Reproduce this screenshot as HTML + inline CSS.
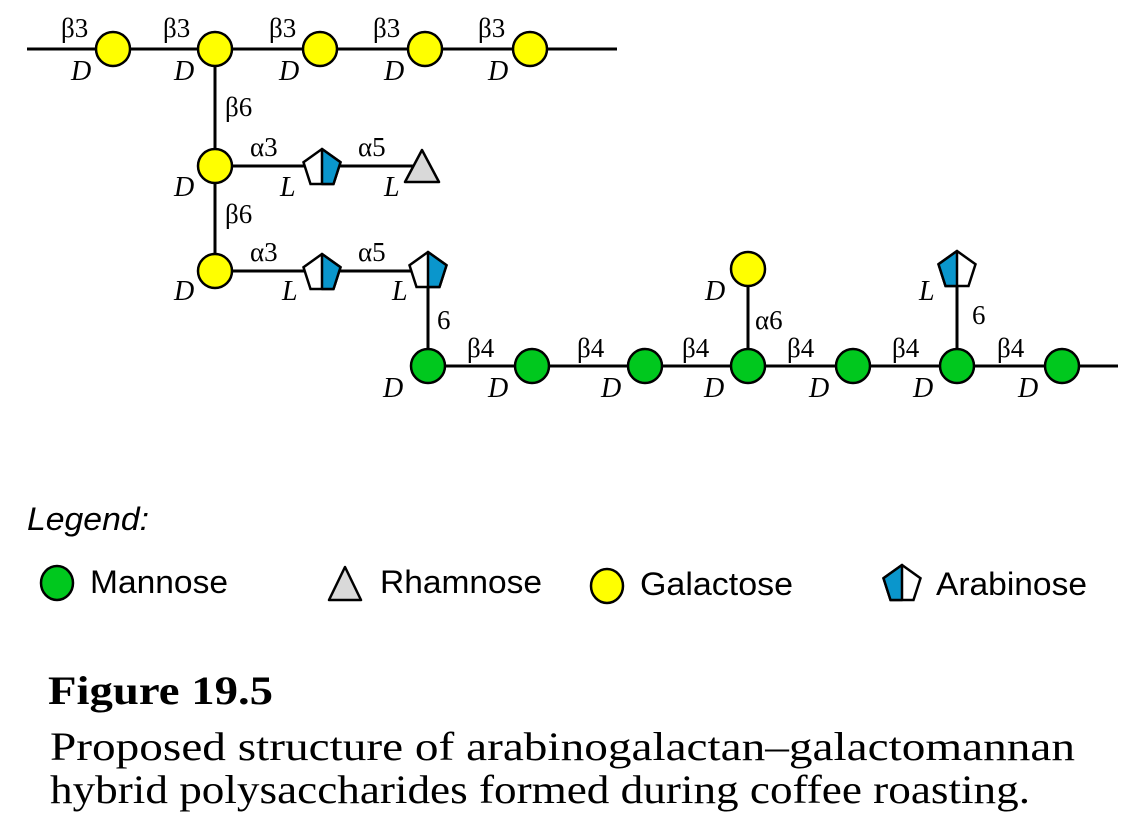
<!DOCTYPE html>
<html><head><meta charset="utf-8"><style>
html,body{margin:0;padding:0;background:#fff;width:1143px;height:834px;overflow:hidden}
svg{display:block}
.lb{font-family:"Liberation Serif",serif;font-size:27px;fill:#000}
.it{font-family:"Liberation Serif",serif;font-style:italic;font-size:28px;fill:#000}
.lg{font-family:"Liberation Sans",sans-serif;font-size:32px;fill:#000}
</style></head><body>
<svg width="1143" height="834" viewBox="0 0 1143 834" xmlns="http://www.w3.org/2000/svg">
<defs>
<g id="penR"><polygon points="0,-19 18.5,-5.8 11.5,16 -11.5,16 -18.5,-5.8" fill="#fff" stroke="#000" stroke-width="2.5"/><polygon points="0,-19 18.5,-5.8 11.5,16 0,16" fill="#0a96cc" stroke="#000" stroke-width="2.5" stroke-linejoin="round"/></g>
<g id="penL"><polygon points="0,-19 18.5,-5.8 11.5,16 -11.5,16 -18.5,-5.8" fill="#fff" stroke="#000" stroke-width="2.5"/><polygon points="0,-19 -18.5,-5.8 -11.5,16 0,16" fill="#0a96cc" stroke="#000" stroke-width="2.5" stroke-linejoin="round"/></g>
</defs>
<g stroke="#000" stroke-width="3" fill="none">
<line x1="27" y1="49" x2="617" y2="49"/>
<line x1="215" y1="49" x2="215" y2="270"/>
<line x1="215" y1="166" x2="422" y2="166"/>
<line x1="215" y1="271" x2="428" y2="271"/>
<line x1="428" y1="271" x2="428" y2="366"/>
<line x1="428" y1="366" x2="1118" y2="366"/>
<line x1="748" y1="269" x2="748" y2="366"/>
<line x1="957" y1="270" x2="957" y2="366"/>
</g>
<g fill="#ffff00" stroke="#000" stroke-width="2.5">
<circle cx="113" cy="49" r="17"/><circle cx="215" cy="49" r="17"/><circle cx="320" cy="49" r="17"/><circle cx="425" cy="49" r="17"/><circle cx="530" cy="49" r="17"/>
<circle cx="215" cy="166" r="17"/><circle cx="215" cy="271" r="17"/><circle cx="748" cy="269" r="17"/>
</g>
<g fill="#00c81e" stroke="#000" stroke-width="2.5">
<circle cx="428" cy="366" r="17"/><circle cx="532" cy="366" r="17"/><circle cx="645" cy="366" r="17"/><circle cx="748" cy="366" r="17"/><circle cx="853" cy="366" r="17"/><circle cx="957" cy="366" r="17"/><circle cx="1062" cy="366" r="17"/>
</g>
<use href="#penR" x="322" y="168"/>
<use href="#penR" x="322" y="273"/>
<use href="#penR" x="428" y="271"/>
<use href="#penL" x="957" y="270"/>
<polygon points="422,150 439,182 405,182" fill="#d9d9d9" stroke="#000" stroke-width="2.5" stroke-linejoin="round"/>
<g class="lb">
<text x="61" y="37">β3</text><text x="163" y="37">β3</text><text x="269" y="37">β3</text><text x="373" y="37">β3</text><text x="478" y="37">β3</text>
<text x="225" y="116">β6</text><text x="225" y="223">β6</text>
<text x="250" y="156">α3</text><text x="358" y="156">α5</text>
<text x="250" y="261">α3</text><text x="358" y="261">α5</text>
<text x="437" y="329">6</text>
<text x="467" y="357">β4</text><text x="577" y="357">β4</text><text x="682" y="357">β4</text><text x="787" y="357">β4</text><text x="892" y="357">β4</text><text x="997" y="357">β4</text>
<text x="755" y="329">α6</text><text x="972" y="324">6</text>
</g>
<g class="it">
<text x="71" y="80">D</text><text x="174" y="80">D</text><text x="279" y="80">D</text><text x="384" y="80">D</text><text x="488" y="80">D</text>
<text x="174" y="196">D</text><text x="174" y="300">D</text>
<text x="280" y="196">L</text><text x="384" y="196">L</text>
<text x="282" y="300">L</text><text x="392" y="300">L</text>
<text x="383" y="397">D</text><text x="488" y="397">D</text><text x="601" y="397">D</text><text x="704" y="397">D</text><text x="809" y="397">D</text><text x="913" y="397">D</text><text x="1018" y="397">D</text>
<text x="705" y="300">D</text><text x="919" y="300">L</text>
</g>
<text x="27" y="530" class="lg" font-style="italic" font-size="29" textLength="122" lengthAdjust="spacingAndGlyphs">Legend:</text>
<ellipse cx="57" cy="583" rx="16" ry="17" fill="#00c81e" stroke="#000" stroke-width="2.5"/>
<text x="90" y="593" class="lg" textLength="138" lengthAdjust="spacingAndGlyphs">Mannose</text>
<polygon points="345,567 361,600 329,600" fill="#d9d9d9" stroke="#000" stroke-width="2.5" stroke-linejoin="round"/>
<text x="380" y="593" class="lg" textLength="162" lengthAdjust="spacingAndGlyphs">Rhamnose</text>
<ellipse cx="607" cy="586" rx="16" ry="17" fill="#ffff00" stroke="#000" stroke-width="2.5"/>
<text x="640" y="595" class="lg" textLength="153" lengthAdjust="spacingAndGlyphs">Galactose</text>
<use href="#penL" x="902" y="584"/>
<text x="936" y="595" class="lg" textLength="151" lengthAdjust="spacingAndGlyphs">Arabinose</text>
<text x="48" y="704" font-family="Liberation Serif,serif" font-weight="bold" font-size="40" textLength="225" lengthAdjust="spacingAndGlyphs">Figure 19.5</text>
<text x="50" y="760" font-family="Liberation Serif,serif" font-size="40" textLength="1025" lengthAdjust="spacingAndGlyphs">Proposed structure of arabinogalactan–galactomannan</text>
<text x="50" y="803" font-family="Liberation Serif,serif" font-size="40" textLength="980" lengthAdjust="spacingAndGlyphs">hybrid polysaccharides formed during coffee roasting.</text>
</svg>
</body></html>
